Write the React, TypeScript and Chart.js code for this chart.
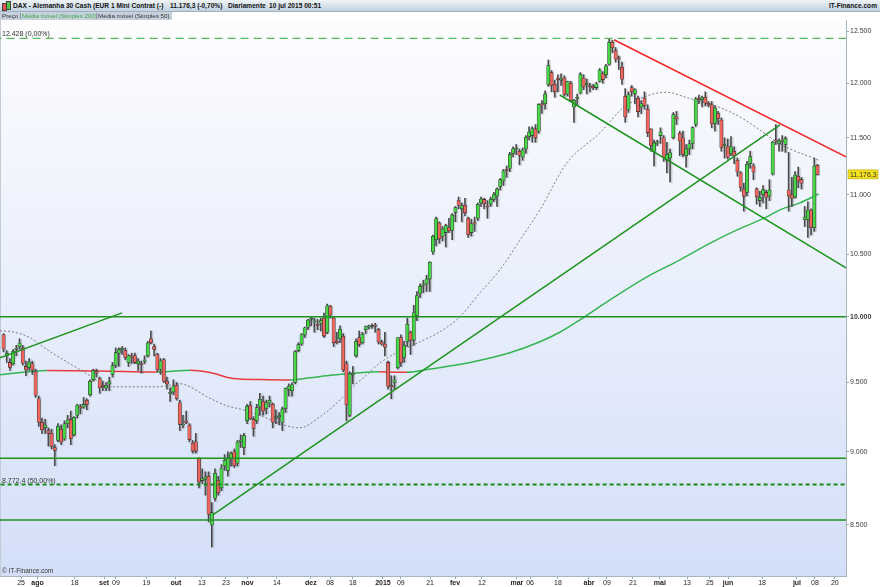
import React, { useEffect, useRef } from 'react';
import { Chart, registerables } from 'chart.js';

Chart.register(...registerables);

// ---------- price data (daily candles, trading-day index 0..254) ----------
const open = [
  9860, 9700, 9650, 9640, 9750, 9770, 9760, 9620, 9610, 9640,
  9580, 9380, 9210, 9170, 9150, 9130, 9030, 9080, 9160, 9090,
  9200, 9230, 9120, 9260, 9320, 9320, 9370, 9410, 9520, 9580,
  9530, 9480, 9460, 9490, 9560, 9630, 9720, 9750, 9740, 9650,
  9700, 9700, 9640, 9640, 9660, 9700, 9830, 9770, 9710, 9600,
  9670, 9510, 9420, 9430, 9480, 9350, 9190, 9220, 9190, 9060,
  9070, 8950, 8800, 8810, 8830, 8500, 8680, 8800, 8750, 8900,
  8870, 8950, 9000, 8920, 9070, 9030, 9220, 9330, 9230, 9220,
  9320, 9360, 9310, 9350, 9340, 9240, 9250, 9210, 9310, 9450,
  9440, 9500, 9740, 9790, 9860, 9920, 9980, 9960, 9940, 9950,
  9990, 9880, 10080, 9990, 9810, 9830, 9850, 9640, 9260, 9560,
  9700, 9840, 9800, 9900, 9922, 9925, 9930, 9900, 9806, 9790,
  9650, 9470, 9500, 9610, 9840, 9690, 9810, 9880, 9820, 10010,
  10180, 10250, 10260, 10300, 10520, 10620, 10760, 10650, 10680, 10720,
  10700, 10850, 10950, 10880, 10910, 10800, 10680, 10760, 10800, 10930,
  10960, 10900, 10920, 10960, 10990, 11070, 11120, 11220, 11230, 11360,
  11400, 11380, 11330, 11400, 11510, 11520, 11580, 11560, 11800, 11810,
  11990, 12100, 11990, 12050, 12030, 12050, 11900, 12000, 11780, 11860,
  11910, 12050, 11990, 11970, 11968, 11960, 12020, 12090, 12080, 12180,
  12390, 12310, 12240, 12150, 11880, 11760, 11960, 11900, 11860, 11780,
  11860, 11760, 11580, 11380, 11454, 11520, 11500, 11300, 11320, 11500,
  11690, 11540, 11500, 11340, 11400, 11450, 11620, 11850, 11850, 11870,
  11815, 11800, 11630, 11720, 11660, 11430, 11420, 11360, 11380, 11300,
  11190, 11050, 11020, 11270, 11250, 11050, 10950, 11000, 11020, 10990,
  11180, 11480, 11450, 11470, 11440, 11040, 11000, 10980, 11160, 11130,
  10790, 10790, 10870, 10720, 11255,
];
const high = [
  9870, 9740, 9680, 9750, 9780, 9830, 9780, 9660, 9680, 9660,
  9600, 9400, 9240, 9230, 9170, 9160, 9050, 9200, 9190, 9220,
  9260, 9290, 9250, 9340, 9340, 9390, 9380, 9520, 9600, 9600,
  9540, 9510, 9500, 9540, 9650, 9760, 9760, 9770, 9760, 9710,
  9720, 9720, 9680, 9660, 9700, 9810, 9890, 9790, 9720, 9680,
  9680, 9540, 9460, 9520, 9500, 9370, 9260, 9290, 9200, 9080,
  9130, 8960, 8880, 8860, 8860, 8650, 8880, 8830, 8910, 8980,
  9000, 9000, 9020, 9080, 9120, 9130, 9340, 9360, 9250, 9340,
  9420, 9400, 9370, 9400, 9350, 9300, 9280, 9320, 9460, 9490,
  9500, 9740, 9800, 9870, 9920, 9980, 10000, 9990, 9980, 9990,
  10030, 10100, 10090, 10000, 9880, 9930, 9870, 9660, 9580, 9620,
  9830, 9890, 9880, 9930, 9935, 9945, 9950, 9910, 9820, 9880,
  9660, 9550, 9550, 9840, 9860, 9810, 9990, 9890, 10090, 10200,
  10260, 10290, 10330, 10440, 10660, 10810, 10770, 10730, 10750, 10800,
  10840, 10900, 10980, 10930, 10970, 10810, 10790, 10810, 10930, 10980,
  10970, 10950, 10980, 11020, 11060, 11140, 11220, 11250, 11370, 11420,
  11440, 11400, 11410, 11520, 11600, 11600, 11620, 11810, 11840, 11930,
  12220, 12120, 12030, 12080, 12090, 12070, 12020, 12020, 11850, 11900,
  12100, 12080, 12040, 12000, 11990, 12010, 12140, 12110, 12180, 12428,
  12410, 12340, 12260, 12200, 11950, 11920, 11980, 11950, 11880, 11840,
  11920, 11800, 11580, 11480, 11480, 11590, 11520, 11460, 11400, 11730,
  11740, 11560, 11560, 11440, 11480, 11600, 11870, 11890, 11880, 11920,
  11830, 11830, 11790, 11740, 11680, 11500, 11490, 11510, 11420, 11320,
  11200, 11100, 11290, 11380, 11270, 11060, 11030, 11080, 11040, 11130,
  11470, 11620, 11490, 11520, 11510, 11370, 11150, 11200, 11240, 11150,
  10900, 10940, 10880, 11320, 11265,
];
const low = [
  9730, 9650, 9590, 9630, 9700, 9750, 9630, 9550, 9590, 9560,
  9390, 9180, 9130, 9130, 9040, 9020, 8903, 9070, 9050, 9080,
  9170, 9050, 9110, 9240, 9270, 9310, 9300, 9400, 9510, 9540,
  9420, 9440, 9440, 9440, 9540, 9610, 9620, 9710, 9670, 9620,
  9640, 9640, 9590, 9570, 9640, 9690, 9790, 9700, 9580, 9560,
  9500, 9450, 9360, 9410, 9370, 9150, 9170, 9200, 9070, 8990,
  8990, 8750, 8780, 8700, 8520, 8355, 8660, 8700, 8730, 8870,
  8830, 8900, 8890, 8900, 9030, 8980, 9200, 9230, 9110, 9200,
  9260, 9260, 9270, 9320, 9170, 9200, 9190, 9150, 9280, 9400,
  9400, 9490, 9730, 9780, 9840, 9900, 9930, 9880, 9900, 9890,
  9840, 9870, 9990, 9770, 9790, 9800, 9580, 9220, 9250, 9490,
  9690, 9770, 9790, 9870, 9905, 9910, 9880, 9790, 9780, 9700,
  9450, 9380, 9450, 9600, 9620, 9650, 9770, 9710, 9780, 9970,
  10150, 10190, 10200, 10200, 10500, 10570, 10590, 10610, 10560, 10680,
  10620, 10770, 10880, 10770, 10820, 10640, 10650, 10690, 10780, 10900,
  10880, 10800, 10900, 10940, 10900, 11040, 11080, 11150, 11200, 11330,
  11350, 11260, 11300, 11360, 11480, 11460, 11460, 11540, 11720, 11760,
  11970, 11920, 11870, 11920, 11980, 11880, 11880, 11830, 11640, 11800,
  11900, 11940, 11900, 11920, 11940, 11940, 12010, 12000, 12050, 12170,
  12290, 12200, 12130, 11990, 11640, 11730, 11880, 11810, 11690, 11720,
  11760, 11510, 11380, 11250, 11430, 11450, 11290, 11190, 11110, 11490,
  11620, 11340, 11330, 11240, 11350, 11400, 11600, 11810, 11780, 11790,
  11780, 11590, 11560, 11620, 11380, 11320, 11310, 11340, 11270, 11160,
  11030, 10860, 10990, 11230, 11130, 10920, 10900, 10930, 10880, 10950,
  11170, 11440, 11380, 11380, 11370, 10860, 10900, 10970, 11060, 11050,
  10730, 10640, 10660, 10690, 11170,
];
const close = [
  9753, 9720, 9612, 9734, 9753, 9797, 9644, 9593, 9653, 9593,
  9407, 9210, 9154, 9189, 9130, 9038, 9009, 9180, 9069, 9199,
  9225, 9092, 9245, 9334, 9314, 9339, 9339, 9510, 9588, 9569,
  9462, 9470, 9480, 9507, 9627, 9724, 9747, 9758, 9686, 9700,
  9691, 9651, 9660, 9633, 9661, 9798, 9799, 9749, 9595, 9661,
  9510, 9490, 9422, 9474, 9382, 9195, 9195, 9209, 9086, 9005,
  9005, 8788, 8812, 8825, 8572, 8582, 8850, 8717, 8886, 8940,
  8953, 8987, 8902, 9068, 9082, 9114, 9326, 9235, 9166, 9315,
  9377, 9291, 9351, 9369, 9210, 9248, 9252, 9306, 9456, 9472,
  9483, 9732, 9785, 9861, 9915, 9974, 9980, 9963, 9934, 9971,
  9851, 10087, 10014, 9799, 9800, 9903, 9594, 9335, 9563, 9564,
  9811, 9787, 9865, 9922, 9925, 9930, 9927, 9806, 9790, 9765,
  9473, 9469, 9518, 9837, 9648, 9781, 9941, 9817, 10032, 10167,
  10242, 10257, 10299, 10435, 10649, 10798, 10628, 10710, 10738, 10694,
  10828, 10891, 10911, 10905, 10846, 10663, 10753, 10752, 10919, 10963,
  10924, 10895, 10962, 11001, 11050, 11130, 11206, 11211, 11354, 11401,
  11409, 11345, 11390, 11504, 11551, 11582, 11500, 11806, 11799, 11901,
  12168, 11980, 11922, 12037, 12039, 11896, 12016, 11843, 11842, 11868,
  12086, 11966, 11990, 11968, 11960, 11995, 12124, 12035, 12166, 12390,
  12339, 12228, 12231, 12039, 11688, 11892, 11922, 11939, 11738, 11810,
  11795, 11547, 11432, 11454, 11460, 11551, 11327, 11350, 11367, 11710,
  11673, 11472, 11351, 11401, 11447, 11592, 11853, 11848, 11864, 11815,
  11800, 11625, 11771, 11673, 11413, 11436, 11328, 11419, 11340, 11197,
  11064, 10985, 11265, 11333, 11197, 10984, 10978, 11045, 10979, 11041,
  11460, 11472, 11471, 11473, 11492, 10990, 10970, 11170, 11120, 11100,
  10810, 10870, 10720, 11250, 11176,
];

// ---------- moving averages ----------
const ma200Idx = [-1.1, 13.6, 30.1, 47.9, 53.5, 58.2, 64.4, 71.6, 80, 89.4, 95.5, 102.8, 109, 117.3, 122, 125.9, 133.1, 145.6, 158, 167.4, 173.6, 179.9, 190.2, 200.8, 211.1, 220.4, 228.9, 238.2, 242.3, 248.5, 254.4];
const ma200Val = [9558, 9590, 9586, 9578, 9586, 9592, 9575, 9530, 9522, 9519, 9535, 9556, 9568, 9580, 9577, 9576, 9600, 9650, 9723, 9807, 9880, 9977, 10149, 10317, 10455, 10590, 10702, 10811, 10871, 10930, 11007];
const ma50Idx = [-1.1, 3.0, 8.3, 12.3, 17.6, 22.9, 27.0, 30.1, 33.2, 40.4, 47.9, 51.0, 55.1, 58.2, 63.5, 69.7, 74.7, 81.0, 87.2, 92.5, 98.8, 104.1, 109.0, 113.4, 117.5, 121.5, 125.9, 130.0, 136.2, 142.4, 148.7, 154.9, 161.2, 167.4, 175.8, 186.1, 193.3, 201.7, 207.0, 213.3, 221.4, 229.8, 236.0, 241.3, 245.4, 252.6, 254.4];
const ma50Val = [9891, 9883, 9838, 9769, 9685, 9610, 9550, 9500, 9468, 9468, 9468, 9476, 9491, 9468, 9395, 9329, 9300, 9250, 9192, 9170, 9250, 9351, 9468, 9558, 9647, 9708, 9761, 9807, 9884, 10000, 10189, 10374, 10619, 10871, 11277, 11544, 11771, 11891, 11916, 11866, 11799, 11689, 11571, 11463, 11400, 11321, 11300];

// ---------- drawn studies ----------
const upTrendIdx = [65.2, 242.3];
const upTrendVal = [8565, 11616];
const channelIdx = [173.6, 262.9];
const channelVal = [11891, 10390];
const resistIdx = [190.5, 262.9];
const resistVal = [12415, 11330];
const earlyIdx = [-1.1, 37.0];
const earlyVal = [9685, 10031];
const topLevel = 12428;
const fiboLevel = 8772.4;
const solidLevels = [10000, 8955, 8533];
const lastPrice = 11176.3;

// ---------- axes ----------
const yTicks = [8500, 9000, 9500, 10000, 10500, 11000, 11500, 12000, 12500];
const xTickIdx = [5.5, 10.6, 22.2, 31.4, 35.1, 44.6, 53.8, 61.9, 69.4, 76.1, 85.3, 95.9, 101.9, 109.0, 118.4, 124.0, 133.1, 140.9, 149.3, 160.2, 164.3, 173.0, 182.7, 188.3, 196.4, 204.8, 213.3, 220.4, 226.1, 236.7, 247.6, 253.2, 259.4];
const xTickLabels = ['25', 'ago', '18', 'set', '09', '19', 'out', '13', '23', 'nov', '14', 'dez', '08', '18', '2015', '09', '21', 'fev', '12', 'mar', '06', '18', 'abr', '09', '21', 'mai', '13', '25', 'jun', '18', 'jul', '08', '20'];
const boldLabels = ['ago', 'set', 'out', 'nov', 'dez', '2015', 'fev', 'mar', 'abr', 'mai', 'jun', 'jul'];

const FONT = '"Liberation Sans", Arial, Helvetica, sans-serif';
const UP = '#46d646';
const DOWN = '#f0645e';
const GREEN_LINE = '#1f931f';

function fmtThousands(v: number) {
  return String(Math.round(v)).replace(/\B(?=(\d{3})+(?!\d))/g, '.');
}

export default function App() {
  const ref = useRef<HTMLCanvasElement | null>(null);

  useEffect(() => {
    const canvas = ref.current;
    if (!canvas) return;
    Chart.defaults.font.family = FONT;

    const xMin = -1.09;
    const xMax = 262.9;
    const pts = (xs: number[], ys: number[]) => xs.map((x, i) => ({ x, y: ys[i] }));
    const hLine = (v: number, color: string, width: number, dash: number[]) => ({
      type: 'line',
      data: [{ x: xMin - 2, y: v }, { x: xMax + 2, y: v }],
      borderColor: color,
      borderWidth: width,
      borderDash: dash,
      pointRadius: 0,
      order: 0,
    });
    const seg = (xs: number[], ys: number[], color: string) => ({
      type: 'line',
      data: pts(xs, ys),
      borderColor: color,
      borderWidth: 1.5,
      pointRadius: 0,
      order: 0,
    });

    const bodies = close.map((c, i) => ({ x: i, y: [open[i], c] }));
    const wicks = close.map((c, i) => ({ x: i, y: [low[i], high[i]] }));

    const bgPlugin = {
      id: 'bgPlugin',
      beforeDraw(chart: any) {
        const { ctx, chartArea: a, width, height } = chart;
        ctx.save();
        ctx.fillStyle = '#ffffff';
        ctx.fillRect(0, 0, width, height);
        const g = ctx.createLinearGradient(0, a.top, 0, a.bottom);
        g.addColorStop(0, '#fdfdff');
        g.addColorStop(1, '#d3dff8');
        ctx.fillStyle = g;
        ctx.fillRect(a.left, a.top, a.right - a.left, a.bottom - a.top);
        ctx.fillStyle = '#c3ccd6';
        ctx.fillRect(a.left, a.top, 1, a.bottom - a.top);
        ctx.restore();
      },
    };

    const shadowPlugin = {
      id: 'candleShadow',
      beforeDatasetDraw(chart: any, args: any) {
        const ds: any = chart.data.datasets[args.index];
        if (ds && ds.isCandle) {
          const ctx = chart.ctx;
          ctx.save();
          ctx.shadowColor = 'rgba(80,80,80,0.28)';
          ctx.shadowOffsetX = 1.5;
          ctx.shadowOffsetY = 0.5;
          ctx.shadowBlur = 1;
        }
      },
      afterDatasetDraw(chart: any, args: any) {
        const ds: any = chart.data.datasets[args.index];
        if (ds && ds.isCandle) chart.ctx.restore();
      },
    };

    const textPlugin = {
      id: 'textPlugin',
      afterDraw(chart: any) {
        const { ctx, chartArea: a } = chart;
        const y = chart.scales.y;
        ctx.save();
        ctx.fillStyle = '#333';
        ctx.font = `7px ${FONT}`;
        ctx.textAlign = 'left';
        ctx.textBaseline = 'bottom';
        ctx.fillText('12.428 (0,00%)', a.left + 2, y.getPixelForValue(topLevel) - 1);
        ctx.fillText('8.772,4 (50,00%)', a.left + 2, y.getPixelForValue(fiboLevel) - 0.5);
        ctx.font = `6.5px ${FONT}`;
        ctx.fillText('\u00A9 IT-Finance.com', a.left + 2, a.bottom - 2);
        // last price tag
        const py = y.getPixelForValue(lastPrice);
        ctx.fillStyle = '#f3e21b';
        ctx.fillRect(a.right + 2, py - 4.5, 30, 9);
        ctx.strokeStyle = '#b7a60c';
        ctx.lineWidth = 0.6;
        ctx.strokeRect(a.right + 2, py - 4.5, 30, 9);
        ctx.fillStyle = '#333';
        ctx.font = `7px ${FONT}`;
        ctx.textBaseline = 'middle';
        ctx.fillText('11.176,3', a.right + 4, py + 0.5);
        ctx.restore();
      },
    };

    const chart = new Chart(canvas, {
      type: 'bar',
      data: {
        datasets: [
          hLine(topLevel, '#55bb55', 1.3, [8, 5]) as any,
          hLine(fiboLevel, '#17891a', 2, [4, 3]) as any,
          ...solidLevels.map((v) => hLine(v, GREEN_LINE, 1.5, []) as any),
          seg(upTrendIdx, upTrendVal, GREEN_LINE) as any,
          seg(channelIdx, channelVal, GREEN_LINE) as any,
          seg(earlyIdx, earlyVal, GREEN_LINE) as any,
          seg(resistIdx, resistVal, '#f22525') as any,
          {
            type: 'bar',
            isCandle: true,
            data: bodies,
            backgroundColor: (c: any) => (close[c.dataIndex] >= open[c.dataIndex] ? UP : DOWN),
            borderColor: '#262626',
            borderWidth: 0.55,
            borderSkipped: false,
            grouped: false,
            barThickness: 3.2,
            minBarLength: 1,
            order: 1,
          } as any,
          {
            type: 'bar',
            isCandle: true,
            data: wicks,
            backgroundColor: '#4a4a4a',
            borderWidth: 0,
            grouped: false,
            barThickness: 1,
            order: 2,
          } as any,
          {
            type: 'line',
            data: pts(ma50Idx, ma50Val),
            borderColor: '#7c7c7c',
            borderWidth: 1,
            borderDash: [2, 2],
            pointRadius: 0,
            cubicInterpolationMode: 'monotone',
            order: 3,
          } as any,
          {
            type: 'line',
            data: pts(ma200Idx, ma200Val),
            borderColor: '#35b550',
            borderWidth: 1.5,
            pointRadius: 0,
            cubicInterpolationMode: 'monotone',
            segment: {
              borderColor: (c: any) => (c.p1.parsed.y < c.p0.parsed.y ? '#e63b3b' : '#35b550'),
            },
            order: 3,
          } as any,
        ],
      },
      options: {
        animation: false,
        responsive: false,
        events: [],
        layout: { padding: { top: 20, left: 0, right: 0, bottom: 0 } },
        plugins: { legend: { display: false }, tooltip: { enabled: false }, title: { display: false } },
        scales: {
          x: {
            type: 'linear',
            min: xMin,
            max: xMax,
            offset: false,
            grid: { display: true, drawOnChartArea: false, drawTicks: true, tickLength: 3, color: '#9aa6b2', offset: false },
            border: { display: true, color: '#a7b4c2' },
            afterBuildTicks: (scale: any) => {
              scale.ticks = xTickIdx.map((v) => ({ value: v }));
            },
            afterFit: (scale: any) => {
              scale.height = 11;
            },
            ticks: {
              autoSkip: false,
              maxRotation: 0,
              minRotation: 0,
              padding: 0,
              color: '#222',
              font: (c: any) => ({
                size: 7,
                family: FONT,
                weight: boldLabels.includes(xTickLabels[c.index]) ? 'bold' : 'normal',
              }),
              callback: (_v: any, i: number) => xTickLabels[i],
            },
          },
          y: {
            type: 'logarithmic',
            position: 'right',
            min: 8168,
            max: 12608,
            beginAtZero: false,
            grid: { display: true, drawOnChartArea: false, drawTicks: true, tickLength: 3, color: '#9aa6b2' },
            border: { display: true, color: '#a7b4c2' },
            afterBuildTicks: (scale: any) => {
              scale.ticks = yTicks.map((v) => ({ value: v }));
            },
            afterFit: (scale: any) => {
              scale.width = 34;
            },
            ticks: {
              autoSkip: false,
              padding: 1,
              color: '#3a3a3a',
              font: (c: any) => ({
                size: 7,
                family: FONT,
                weight: c.tick && c.tick.value === 10000 ? 'bold' : 'normal',
              }),
              callback: (v: any) => fmtThousands(Number(v)),
            },
          },
        },
      } as any,
      plugins: [bgPlugin, shadowPlugin, textPlugin],
    });

    return () => chart.destroy();
  }, []);

  const hdrText: React.CSSProperties = {
    position: 'absolute',
    top: 0,
    lineHeight: '11px',
    fontSize: '6.6px',
    fontWeight: 'bold',
    color: '#111',
    whiteSpace: 'nowrap',
  };
  const lgText: React.CSSProperties = {
    position: 'absolute',
    top: 0,
    lineHeight: '8px',
    fontSize: '6.2px',
    whiteSpace: 'nowrap',
  };

  return (
    <div style={{ position: 'absolute', left: 0, top: 0, width: 880, height: 587, overflow: 'hidden', background: '#fff', fontFamily: FONT }}>
      <style>{'body{margin:0}'}</style>
      <canvas ref={ref} width={880} height={587} style={{ position: 'absolute', left: 0, top: 0, display: 'block' }} />
      <div
        style={{
          position: 'absolute',
          left: 0,
          top: 0,
          width: 880,
          height: 11,
          background: 'linear-gradient(#eef3f7, #c3d3e0)',
          borderBottom: '1px solid #9eb1c1',
        }}
      >
        <div style={{ position: 'absolute', left: 2, top: 3, width: 3, height: 6, background: '#e8524a', border: '0.5px solid #444' }} />
        <div style={{ position: 'absolute', left: 6, top: 1, width: 3, height: 7, background: '#4cc94c', border: '0.5px solid #444' }} />
        <span style={{ ...hdrText, left: 13 }}>DAX - Alemanha 30 Cash (EUR 1 Mini Contrat (-)</span>
        <span style={{ ...hdrText, left: 170 }}>11.176,3 (-0,70%)</span>
        <span style={{ ...hdrText, left: 228 }}>Diariamente</span>
        <span style={{ ...hdrText, left: 269 }}>10 jul 2015 00:51</span>
        <span style={{ ...hdrText, right: 3 }}>IT-Finance.com</span>
      </div>
      <div style={{ position: 'absolute', left: 0, top: 12, width: 172, height: 8, background: '#c7d1db' }}>
        <span style={{ ...lgText, left: 2, color: '#333' }}>Preço</span>
        <div style={{ position: 'absolute', left: 20, top: 1, width: 1, height: 6, background: '#8a98a6' }} />
        <span style={{ ...lgText, left: 22, color: '#3aa64a' }}>Média móvel (Simples 200)</span>
        <div style={{ position: 'absolute', left: 96, top: 1, width: 1, height: 6, background: '#8a98a6' }} />
        <span style={{ ...lgText, left: 98, color: '#333' }}>Média móvel (Simples 50)</span>
      </div>
    </div>
  );
}
